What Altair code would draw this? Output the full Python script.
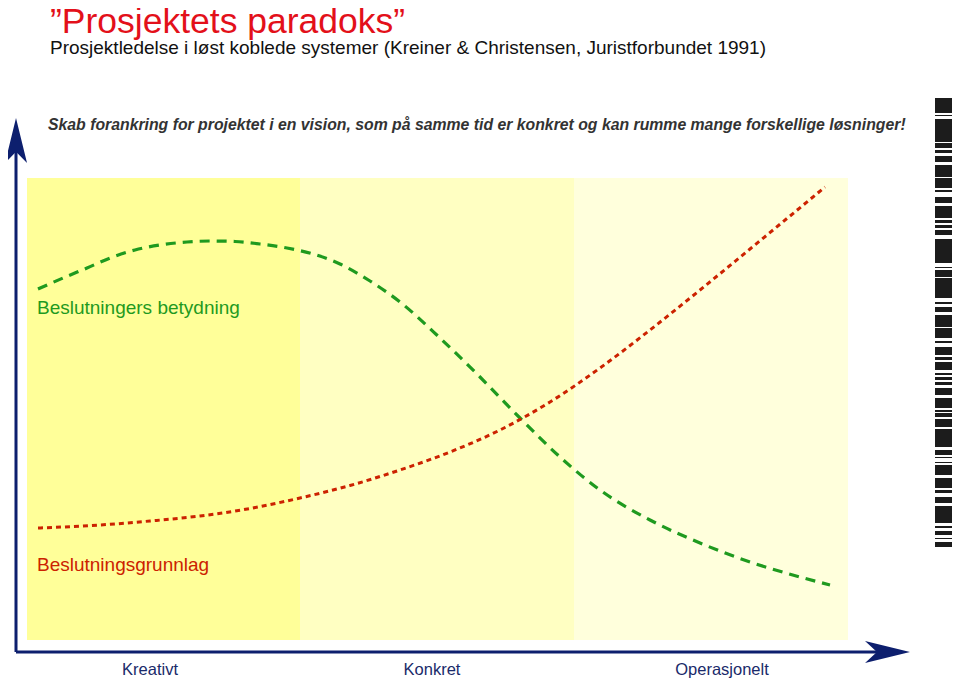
import altair as alt
import pandas as pd

# ---------------- data (canvas units: x 8..952, y 8..679 top-down) ----------------
title_text = "\u201dProsjektets paradoks\u201d"
subtitle_text = "Prosjektledelse i løst koblede systemer (Kreiner & Christensen, Juristforbundet 1991)"
slogan_text = ("Skab forankring for projektet i en vision, som på samme tid er konkret "
               "og kan rumme mange forskellige løsninger!")

phase_labels = ["Kreativt", "Konkret", "Operasjonelt"]
phase_label_x = [150, 432, 722]
phase_x0 = [27, 300, 574]
phase_x1 = [300, 574, 848]
phase_colors = ["#ffff99", "#ffffc2", "#ffffdc"]
band_top = 178
band_bottom = 640

green_label = "Beslutningers betydning"
green_x = [38, 63, 87, 110, 135, 160, 187, 210, 235, 260, 287, 313, 340, 370, 400,
           440, 480, 520, 560, 600, 650, 700, 750, 800, 830]
green_y = [289, 278, 268, 258, 250, 245, 242, 241, 241.5, 244, 248, 254, 264, 281, 302,
           338, 377, 418, 457, 490, 520, 543, 562, 577, 585]

red_label = "Beslutningsgrunnlag"
red_x = [38, 100, 150, 200, 250, 300, 350, 400, 450, 500, 550, 600, 650, 700, 750, 790, 825]
red_y = [528, 525, 521, 516, 508.5, 498, 485.5, 470, 452, 430, 402, 368, 330, 290, 249, 216, 187]

barcode_top = [98, 115, 119, 143, 150, 156, 165, 178, 190, 197, 206, 220, 225, 230, 239,
               245, 250, 267, 270, 278, 302, 307, 315, 328, 341, 347, 357, 362, 373, 377,
               382, 388, 398, 400, 410, 413, 419, 429, 450, 457, 462, 465, 478, 490, 497,
               506, 526, 531, 538, 542]
barcode_bottom = [113, 116, 142, 148, 153, 162, 177, 188, 192, 203, 218, 223, 228, 235, 250,
                  247, 263, 268, 277, 298, 304, 312, 327, 338, 343, 355, 360, 370, 375, 380,
                  385, 395, 405, 408, 412, 417, 427, 447, 455, 458, 463, 475, 488, 493, 503,
                  523, 528, 535, 539, 547]

# ---------------- styling ----------------
NAVY = "#0d1f6e"
GREEN = "#1f9a1f"
RED = "#cc2200"
SANS = "Liberation Sans, Arial, Helvetica"

xs = alt.Scale(domain=[8, 952], nice=False, zero=False)
ys = alt.Scale(domain=[8, 679], nice=False, zero=False, reverse=True)


def X(f):
    return alt.X(f, type="quantitative", scale=xs, axis=None)


def Y(f):
    return alt.Y(f, type="quantitative", scale=ys, axis=None)


phases = pd.DataFrame({
    "x0": phase_x0, "x1": phase_x1, "color": phase_colors,
    "top": [band_top] * 3, "bottom": [band_bottom] * 3,
    "label": phase_labels, "lx": phase_label_x, "ly": [675] * 3,
})

bg = alt.Chart(phases).mark_rect().encode(
    x=X("x0"), x2="x1", y=Y("top"), y2="bottom",
    color=alt.Color("color:N", scale=None),
)

green_df = pd.DataFrame({"x": green_x, "y": green_y, "i": range(len(green_x))})
red_df = pd.DataFrame({"x": red_x, "y": red_y, "i": range(len(red_x))})

green_line = alt.Chart(green_df).mark_line(
    color=GREEN, strokeWidth=3.2, strokeDash=[10, 7], interpolate="monotone"
).encode(x=X("x"), y=Y("y"), order="i:Q")

red_line = alt.Chart(red_df).mark_line(
    color=RED, strokeWidth=3, strokeDash=[5, 4], interpolate="monotone"
).encode(x=X("x"), y=Y("y"), order="i:Q")

axes_df = pd.DataFrame({"x": [16, 16], "x2": [16, 885], "y": [652, 652], "y2": [130, 652]})
axes = alt.Chart(axes_df).mark_rule(color=NAVY, strokeWidth=3).encode(
    x=X("x"), x2="x2", y=Y("y"), y2="y2"
)

up_head = alt.Chart(pd.DataFrame({"x": [16], "y": [140.5]})).mark_point(
    shape="M0,-1L0.49,1L0,0.5L-0.49,1Z", filled=True, size=2025,
    color=NAVY, opacity=1, strokeWidth=0,
).encode(x=X("x"), y=Y("y"))

right_head = alt.Chart(pd.DataFrame({"x": [887.5], "y": [652]})).mark_point(
    shape="M1,0L-1,-0.49L-0.47,0L-1,0.49Z", filled=True, size=2025,
    color=NAVY, opacity=1, strokeWidth=0,
).encode(x=X("x"), y=Y("y"))

bars = pd.DataFrame({"top": barcode_top, "bottom": barcode_bottom,
                     "x0": [935] * len(barcode_top), "x1": [952] * len(barcode_top)})
barcode = alt.Chart(bars).mark_rect(color="#1c1c1c").encode(
    x=X("x0"), x2="x1", y=Y("top"), y2="bottom"
)


def text_layer(text, x, y, size, color, weight="normal", style="normal", align="left"):
    return alt.Chart(pd.DataFrame({"x": [x], "y": [y], "t": [text]})).mark_text(
        align=align, baseline="alphabetic", fontSize=size, color=color, font=SANS,
        fontWeight=weight, fontStyle=style,
    ).encode(x=X("x"), y=Y("y"), text="t:N")


title = text_layer(title_text, 50, 33, 35.5, "#e3101a")
subtitle = text_layer(subtitle_text, 50, 54, 19, "#111111")
slogan = text_layer(slogan_text, 48, 130, 15.8, "#333333", weight="bold", style="italic")
green_lbl = text_layer(green_label, 37, 314, 19, GREEN)
red_lbl = text_layer(red_label, 37, 571, 19, RED)

phase_lbls = alt.Chart(phases).mark_text(
    align="center", baseline="alphabetic", fontSize=16.5, color="#1a2a6a", font=SANS
).encode(x=X("lx"), y=Y("ly"), text="label:N")

chart = alt.layer(
    bg, barcode, green_line, red_line, axes, up_head, right_head,
    title, subtitle, slogan, green_lbl, red_lbl, phase_lbls,
).properties(
    width=944, height=671, padding=0,
    autosize=alt.AutoSizeParams(type="none"),
).configure_view(stroke=None)

chart.save("out.html", embed_options={"renderer": "svg", "actions": False})
